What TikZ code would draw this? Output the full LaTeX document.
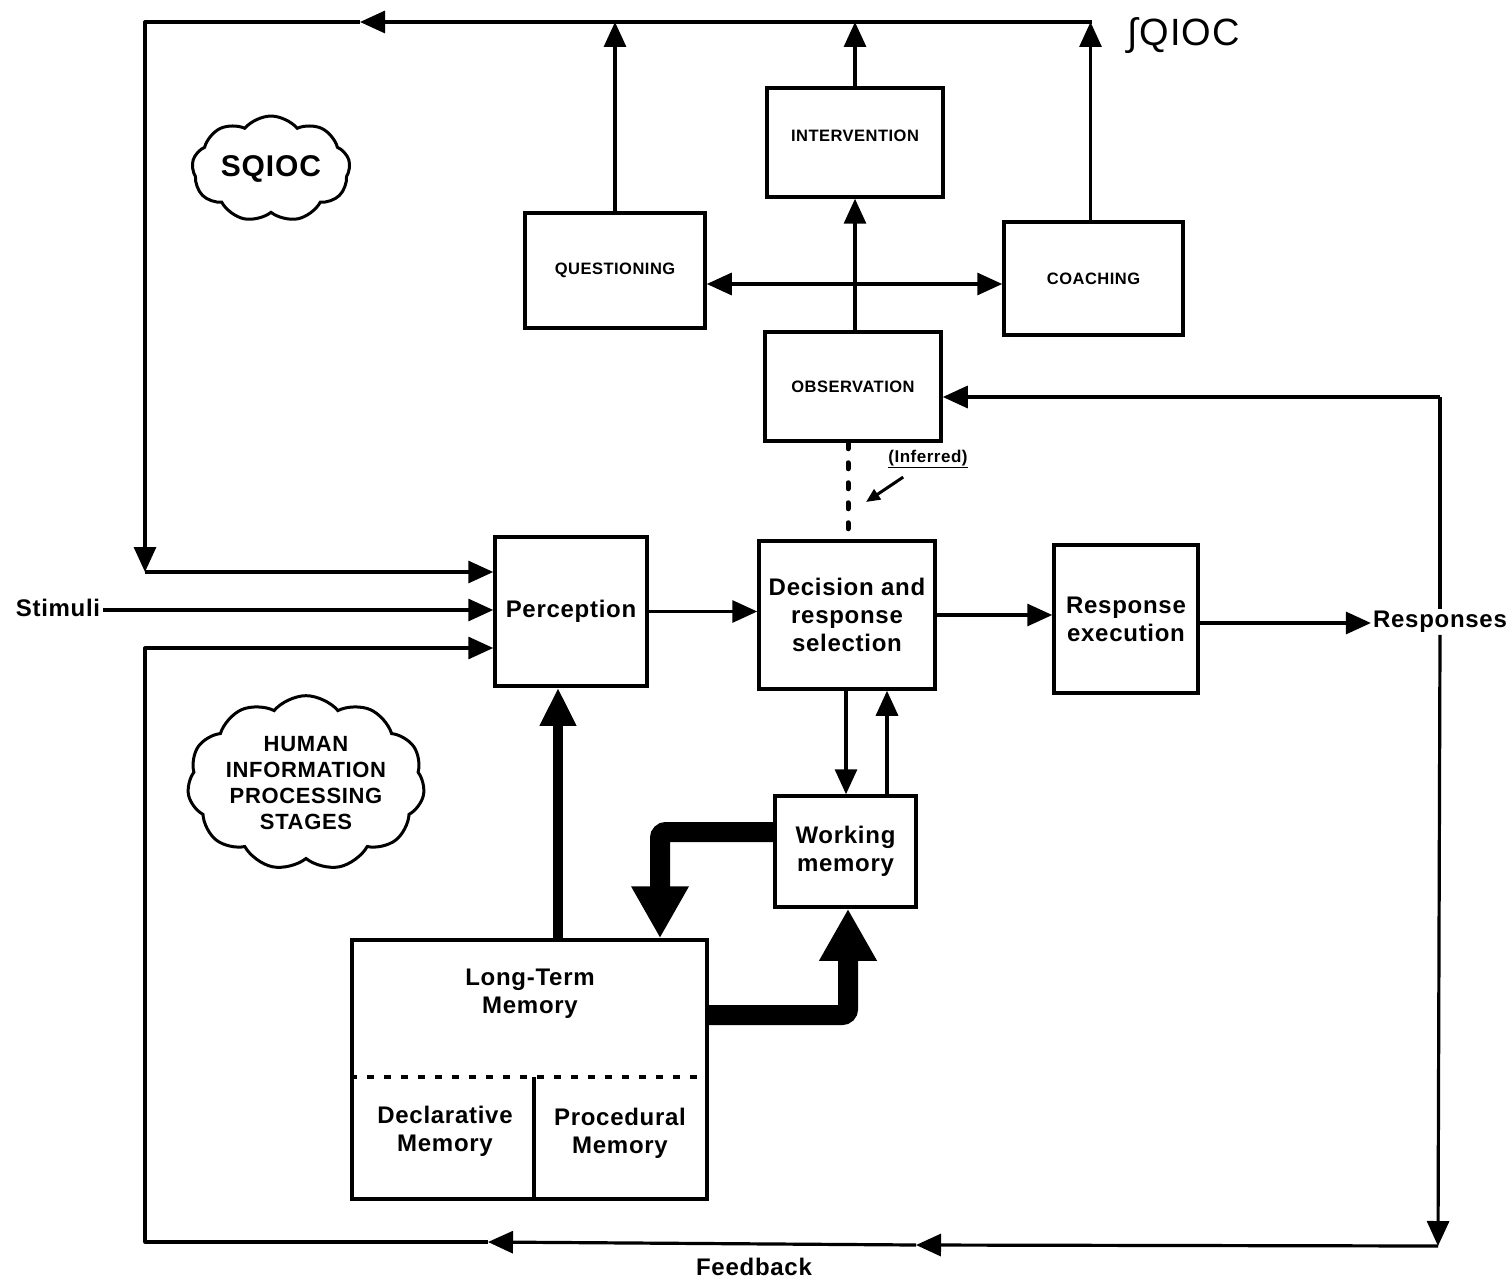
\documentclass[tikz,border=0pt]{standalone}
\usepackage{fontspec}
\setmainfont{Liberation Sans}[LetterSpace=3]
\usetikzlibrary{arrows.meta,shapes.symbols,calc}
\begin{document}
\begin{tikzpicture}[x=1pt,y=-1pt,
  lw/.style={line width=3.2pt,line join=round},
  box/.style={draw,line width=3.5pt,inner sep=0pt,align=center,font=\fontsize{24}{28}\selectfont\bfseries},
  capbox/.style={box,font=\fontsize{16.5}{18}\selectfont\bfseries},
  lbl/.style={align=center,inner sep=3pt,font=\fontsize{24}{28}\selectfont\bfseries},
  arr/.style={lw,-{Triangle[length=25pt,width=22pt]}},
  thick1/.style={line width=10pt,-{Triangle[length=38pt,width=34pt]}},
  thick2/.style={line width=20pt,rounded corners=6pt,-{Triangle[length=52pt,width=54pt]}},
  cloudbox/.style={cloud,draw,line width=3pt,cloud puff arc=100,align=center,inner sep=0pt}
]
\useasboundingbox (0,0) rectangle (1509,1281);

% boxes
\node[capbox,minimum width=180pt,minimum height=115pt] (que) at (615,270.5) {QUESTIONING};
\node[capbox,minimum width=176pt,minimum height=109pt,text depth=14pt] (int) at (855,142.5) {INTERVENTION};
\node[capbox,minimum width=179pt,minimum height=113pt] (coa) at (1093.5,278.5) {COACHING};
\node[capbox,minimum width=176pt,minimum height=109pt] (obs) at (853,386.5) {OBSERVATION};
\node[box,minimum width=152pt,minimum height=149pt] (per) at (571,611.5) {Perception};
\node[box,minimum width=176pt,minimum height=148pt] (dec) at (847,615) {Decision and\\response\\selection};
\node[box,minimum width=144pt,minimum height=148pt] (rex) at (1126,619) {Response\\execution};
\node[box,minimum width=141pt,minimum height=111pt] (wm) at (845.5,851.5) {Working\\memory};
\node[box,minimum width=355pt,minimum height=259pt] (ltm) at (529.5,1069.5) {};
\node[lbl] (ltmt) at (530,994) {Long-Term\\Memory};
\node[lbl] (decl) at (445,1131) {Declarative\\Memory};
\node[lbl] (proc) at (620,1133) {Procedural\\Memory};

% labels
\node[lbl] (stim) at (58,608) {Stimuli};
\node[lbl,inner sep=2pt] (resp) at (1440,622) {Responses};
\node[lbl] (fb) at (754,1267) {Feedback};
\node[font=\fontsize{38}{40}\selectfont,inner sep=0pt] (tq) at (1184,36) {∫QIOC};
\node[font=\fontsize{17}{20}\selectfont\bfseries,inner sep=1pt] (inf) at (928,459) {\underline{(Inferred)}};

% clouds
\node[cloudbox,cloud puffs=9,aspect=1.6,minimum width=158pt,minimum height=98pt,font=\fontsize{30}{32}\selectfont\bfseries] (c1) at (271,169) {SQIOC};
\node[cloudbox,cloud puffs=11,aspect=1.5,minimum width=223pt,minimum height=145pt,font=\fontsize{22}{26}\selectfont\bfseries] (c2) at (306,783) {HUMAN\\INFORMATION\\PROCESSING\\STAGES};

% LTM internals
\coordinate (dl) at (0,1077);
\coordinate (dv) at (534,1077);
\draw[line width=4.5pt,dash pattern=on 7pt off 10pt] (ltm.west |- dl) -- (ltm.east |- dl);
\draw[line width=3.5pt] (dv) -- (dv |- ltm.south);

% top loop
\coordinate (tr) at (1092,22);
\coordinate (tarr) at (360,22);
\coordinate (tl) at (145,22);
\coordinate (lm) at (145,572);
\draw[arr] (que.north) -- (que.north |- tr);
\draw[arr] (int.north) -- (int.north |- tr);
\draw[arr] ([xshift=-3pt]coa.north) -- ([xshift=-3pt]coa.north |- tr);
\draw[arr] (tr) -- (tarr);
\draw[lw] (tarr) -- (tl) -- ([yshift=12pt]lm);
\draw[arr] (tl) -- (lm);
\draw[arr] (lm) -- (lm -| per.west);

% SQIOC internal
\draw[arr] (obs.north -| int) -- (int.south);
\coordinate (qc) at (0,284);
\draw[lw,{Triangle[length=25pt,width=22pt]}-{Triangle[length=25pt,width=22pt]}] (que.east |- qc) -- (coa.west |- qc);
\coordinate (dx) at (848,0);
\draw[line width=5pt,line cap=round,dash pattern=on 6pt off 14pt] (obs.south -| dx) -- (dec.north -| dx);
\coordinate (ia) at (866,502);
\draw[line width=3pt,-{Triangle[length=14pt,width=12pt]}] ($(inf.south west)+(16,8)$) -- (ia);

% right / feedback loop
\coordinate (rt) at (1440,397);
\coordinate (br) at (1438,1246);
\coordinate (bm1) at (916,1245);
\coordinate (bm2) at (488,1242);
\coordinate (bl) at (145,1242);
\coordinate (lf) at (145,648);
\draw[lw] (resp.north) -- (rt);
\draw[arr] (rt) -- (rt -| obs.east);
\draw[arr] (resp.south) -- (br);
\draw[arr] (br) -- (bm1);
\draw[arr] (bm1) -- (bm2);
\draw[arr] (bm2) -- (bl) -- (lf) -- (lf -| per.west);

% main flow
\coordinate (sy) at (0,610);
\draw[arr] (stim.east |- sy) -- (per.west |- sy);
\draw[arr] (per.east) -- (per.east -| dec.west);
\draw[arr] (dec.east) -- (dec.east -| rex.west);
\coordinate (ry) at (0,623);
\draw[arr] (rex.east |- ry) -- (resp.west |- ry);
\coordinate (d1) at (846,0);
\coordinate (d2) at (887,0);
\draw[arr] (dec.south -| d1) -- (wm.north -| d1);
\draw[arr] (wm.north -| d2) -- (dec.south -| d2);

% thick memory arrows
\coordinate (lx) at (558,0);
\draw[thick1] (ltm.north -| lx) -- (per.south -| lx);
\coordinate (w1) at (660,832);
\draw[thick2] (wm.west |- w1) -- (w1) -- (w1 |- ltm.north);
\coordinate (l1) at (848,1015);
\draw[thick2] (ltm.east |- l1) -- (l1) -- (l1 |- wm.south);
\end{tikzpicture}
\end{document}
